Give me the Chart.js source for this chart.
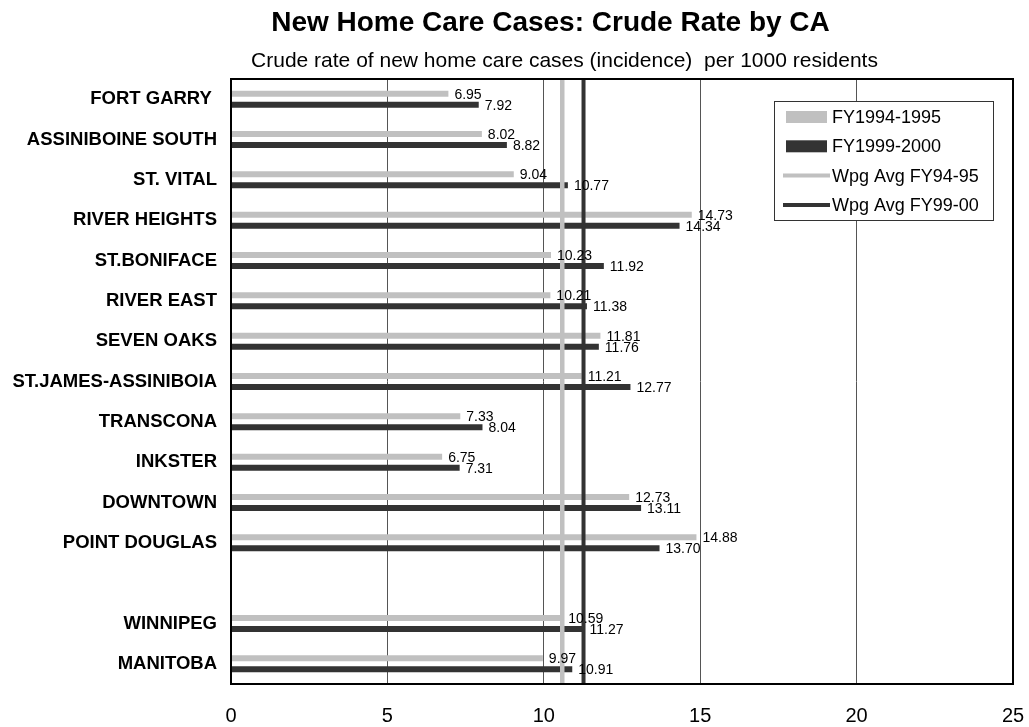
<!DOCTYPE html>
<html>
<head>
<meta charset="utf-8">
<title>New Home Care Cases: Crude Rate by CA</title>
<script src="https://cdn.jsdelivr.net/npm/chart.js@4/dist/chart.umd.min.js"></script>
<style>
  html, body { margin: 0; padding: 0; background: #fff; overflow: hidden; }
  #wrap { width: 1029px; height: 727px; position: relative; }
  canvas { display: block; }
</style>
</head>
<body>
<div id="wrap"><canvas id="chart" width="1029" height="727"></canvas></div>
<script>
// Community areas (blank slot separates the CAs from the city / province totals)
const categories = [
  'FORT GARRY ', 'ASSINIBOINE SOUTH', 'ST. VITAL', 'RIVER HEIGHTS', 'ST.BONIFACE',
  'RIVER EAST', 'SEVEN OAKS', 'ST.JAMES-ASSINIBOIA', 'TRANSCONA', 'INKSTER',
  'DOWNTOWN', 'POINT DOUGLAS', '', 'WINNIPEG', 'MANITOBA'
];

// Crude rate of new home care cases per 1000 residents
const fy1994_1995 = [6.95, 8.02, 9.04, 14.73, 10.23, 10.21, 11.81, 11.21, 7.33, 6.75, 12.73, 14.88, null, 10.59, 9.97];
const fy1999_2000 = [7.92, 8.82, 10.77, 14.34, 11.92, 11.38, 11.76, 12.77, 8.04, 7.31, 13.11, 13.70, null, 11.27, 10.91];

// Winnipeg averages drawn as reference lines
const wpgAvgFY9495 = 10.59;
const wpgAvgFY9900 = 11.27;

// Value axis ticks
const xTicks = [0, 5, 10, 15, 20, 25];

const seriesNames = ['FY1994-1995', 'FY1999-2000', 'Wpg Avg FY94-95', 'Wpg Avg FY99-00'];

const LIGHT = '#c0c0c0';
const DARK = '#333333';
const FONT = '"Liberation Sans", Arial, Helvetica, sans-serif';
Chart.defaults.font.family = FONT;
Chart.defaults.color = '#000';

const avgLines = [
  { label: seriesNames[2], value: wpgAvgFY9495, color: LIGHT, width: 4.5 },
  { label: seriesNames[3], value: wpgAvgFY9900, color: DARK, width: 4 }
];

// Title and subtitle
const headings = {
  id: 'headings',
  afterDraw(chart) {
    const ctx = chart.ctx;
    ctx.save();
    ctx.fillStyle = '#000';
    ctx.textAlign = 'center';
    ctx.textBaseline = 'alphabetic';
    ctx.font = '700 28px ' + FONT;
    ctx.fillText('New Home Care Cases: Crude Rate by CA', 550.5, 31);
    ctx.font = '400 21px ' + FONT;
    ctx.fillText('Crude rate of new home care cases (incidence)  per 1000 residents', 564.5, 67);
    ctx.restore();
  }
};

// Vertical Winnipeg-average lines across the full plot height
const averageLines = {
  id: 'averageLines',
  afterDatasetsDraw(chart) {
    const a = chart.chartArea;
    const x = chart.scales.x;
    const ctx = chart.ctx;
    ctx.save();
    avgLines.forEach(l => {
      const px = x.getPixelForValue(l.value);
      ctx.strokeStyle = l.color;
      ctx.lineWidth = l.width;
      ctx.beginPath();
      ctx.moveTo(px, a.top);
      ctx.lineTo(px, a.bottom);
      ctx.stroke();
    });
    ctx.restore();
  }
};

// Black frame around the plotting area
const frame = {
  id: 'frame',
  afterDatasetsDraw(chart) {
    const a = chart.chartArea;
    const ctx = chart.ctx;
    ctx.save();
    ctx.strokeStyle = '#000';
    ctx.lineWidth = 2;
    ctx.strokeRect(a.left, a.top, a.right - a.left, a.bottom - a.top);
    ctx.restore();
  }
};

// Value labels at the end of each bar
const barValues = {
  id: 'barValues',
  afterDatasetsDraw(chart) {
    const ctx = chart.ctx;
    ctx.save();
    ctx.fillStyle = '#000';
    ctx.font = '400 14px ' + FONT;
    ctx.textAlign = 'left';
    ctx.textBaseline = 'middle';
    chart.data.datasets.forEach((ds, i) => {
      const meta = chart.getDatasetMeta(i);
      meta.data.forEach((bar, j) => {
        const v = ds.data[j];
        if (v === null || v === undefined) return;
        ctx.fillText(v.toFixed(2), bar.x + 6, bar.y + 1);
      });
    });
    ctx.restore();
  }
};

// Boxed legend inside the plot, top right
const legendBox = {
  id: 'legendBox',
  afterDraw(chart) {
    const ctx = chart.ctx;
    const bx = 774, by = 101, bw = 219, bh = 119;
    const entries = chart.data.datasets.map(ds => ({ label: ds.label, color: ds.backgroundColor, kind: 'box' }))
      .concat(avgLines.map(l => ({ label: l.label, color: l.color, kind: 'line' })));
    ctx.save();
    ctx.fillStyle = '#fff';
    ctx.fillRect(bx, by, bw, bh);
    ctx.strokeStyle = '#333';
    ctx.lineWidth = 1;
    ctx.strokeRect(bx + 0.5, by + 0.5, bw, bh);
    ctx.font = '400 18px ' + FONT;
    ctx.textAlign = 'left';
    ctx.textBaseline = 'middle';
    entries.forEach((e, i) => {
      const cy = by + 16 + i * 29.3;
      if (e.kind === 'line') {
        ctx.strokeStyle = e.color;
        ctx.lineWidth = 4;
        ctx.beginPath();
        ctx.moveTo(783, cy);
        ctx.lineTo(830, cy);
        ctx.stroke();
      } else {
        ctx.fillStyle = e.color;
        ctx.fillRect(786, cy - 6, 41, 12);
      }
      ctx.fillStyle = '#000';
      ctx.fillText(e.label, 832, cy + 1);
    });
    ctx.restore();
  }
};

new Chart(document.getElementById('chart'), {
  type: 'bar',
  data: {
    labels: categories,
    datasets: [
      { label: seriesNames[0], data: fy1994_1995, backgroundColor: LIGHT, borderWidth: 0 },
      { label: seriesNames[1], data: fy1999_2000, backgroundColor: DARK, borderWidth: 0 }
    ]
  },
  options: {
    indexAxis: 'y',
    responsive: false,
    animation: false,
    events: [],
    layout: { padding: { left: 0, right: 16, top: 79, bottom: 0 } },
    categoryPercentage: 0.5455,
    barPercentage: 0.545,
    plugins: { legend: { display: false }, title: { display: false }, tooltip: { enabled: false } },
    scales: {
      x: {
        type: 'linear', position: 'bottom',
        min: xTicks[0], max: xTicks[xTicks.length - 1],
        afterBuildTicks(scale) { scale.ticks = xTicks.map(v => ({ value: v })); },
        afterFit(scale) { scale.height = 43; scale.paddingLeft = 0; scale.paddingRight = 0; },
        grid: { color: '#555', lineWidth: 1, drawTicks: false },
        border: { display: false },
        ticks: { font: { size: 20 }, color: '#000', padding: 20, maxRotation: 0 }
      },
      y: {
        type: 'category', position: 'left', offset: true,
        afterFit(scale) { scale.width = 231; },
        grid: { display: false, drawTicks: false },
        border: { display: false },
        ticks: { font: { size: 18.5, weight: '700' }, color: '#000', padding: 14, autoSkip: false }
      }
    }
  },
  plugins: [headings, averageLines, frame, barValues, legendBox]
});
</script>
</body>
</html>
